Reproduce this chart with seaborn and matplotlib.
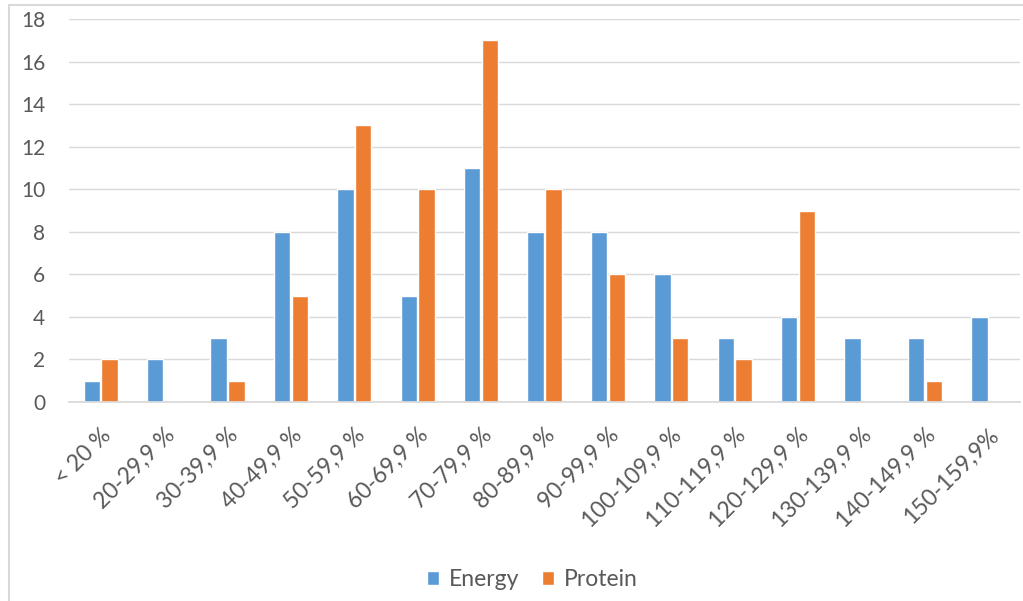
import matplotlib
matplotlib.use("Agg")
import matplotlib.pyplot as plt
import seaborn as sns
import pandas as pd
from matplotlib.patches import Rectangle

categories = ["< 20 %", "20-29,9 %", "30-39,9 %", "40-49,9 %", "50-59,9 %", "60-69,9 %",
              "70-79,9 %", "80-89,9 %", "90-99,9 %", "100-109,9 %", "110-119,9 %",
              "120-129,9 %", "130-139,9 %", "140-149,9 %", "150-159,9%"]
energy = [1, 2, 3, 8, 10, 5, 11, 8, 8, 6, 3, 4, 3, 3, 4]
protein = [2, 0, 1, 5, 13, 10, 17, 10, 6, 3, 2, 9, 0, 1, 0]

df = pd.DataFrame({
    "cat": categories * 2,
    "val": energy + protein,
    "series": ["Energy"] * len(categories) + ["Protein"] * len(categories),
})

sns.set_theme(style="white")
plt.rcParams['font.family'] = ['Lato', 'DejaVu Sans']

fig = plt.figure(figsize=(10.23, 6.01), dpi=100)
ax = fig.add_axes([69/1023, 1-402/601, (1020-69)/1023, (402-19)/601])

sns.barplot(data=df, x="cat", y="val", hue="series", ax=ax,
            palette={"Energy": "#5B9BD5", "Protein": "#ED7D31"},
            width=0.56, gap=0.08, saturation=1, legend=True)

ax.set_ylim(0, 18)
ax.set_xlim(-0.5, len(categories) - 0.5)
ax.set_yticks(range(0, 19, 2))
ax.yaxis.grid(True, color="#D9D9D9", linewidth=1)
ax.set_axisbelow(True)
for s in ["top", "right", "left"]:
    ax.spines[s].set_visible(False)
ax.spines["bottom"].set_color("#D9D9D9")
ax.set_xlabel("")
ax.set_ylabel("")
ax.tick_params(axis="y", length=0, labelsize=15, labelcolor="#595959", pad=17)
ax.tick_params(axis="x", length=0, labelsize=16.5, labelcolor="#595959", pad=16)
plt.setp(ax.get_xticklabels(), rotation=45, ha="right", va="top", rotation_mode="anchor")

leg = ax.legend(loc="center", bbox_to_anchor=(0.52, (601-580)/601), bbox_transform=fig.transFigure,
                ncol=2, frameon=False, fontsize=16.5, handlelength=0.55, handleheight=0.55,
                columnspacing=1.0, handletextpad=0.4, labelcolor="#595959")

fig.patches.append(Rectangle((9/1023, -0.1), 1.2, 1 - 5/601 + 0.1, transform=fig.transFigure,
                             fill=False, edgecolor="#D9D9D9", linewidth=1.5, zorder=0))

fig.savefig("out.png", dpi=100)
